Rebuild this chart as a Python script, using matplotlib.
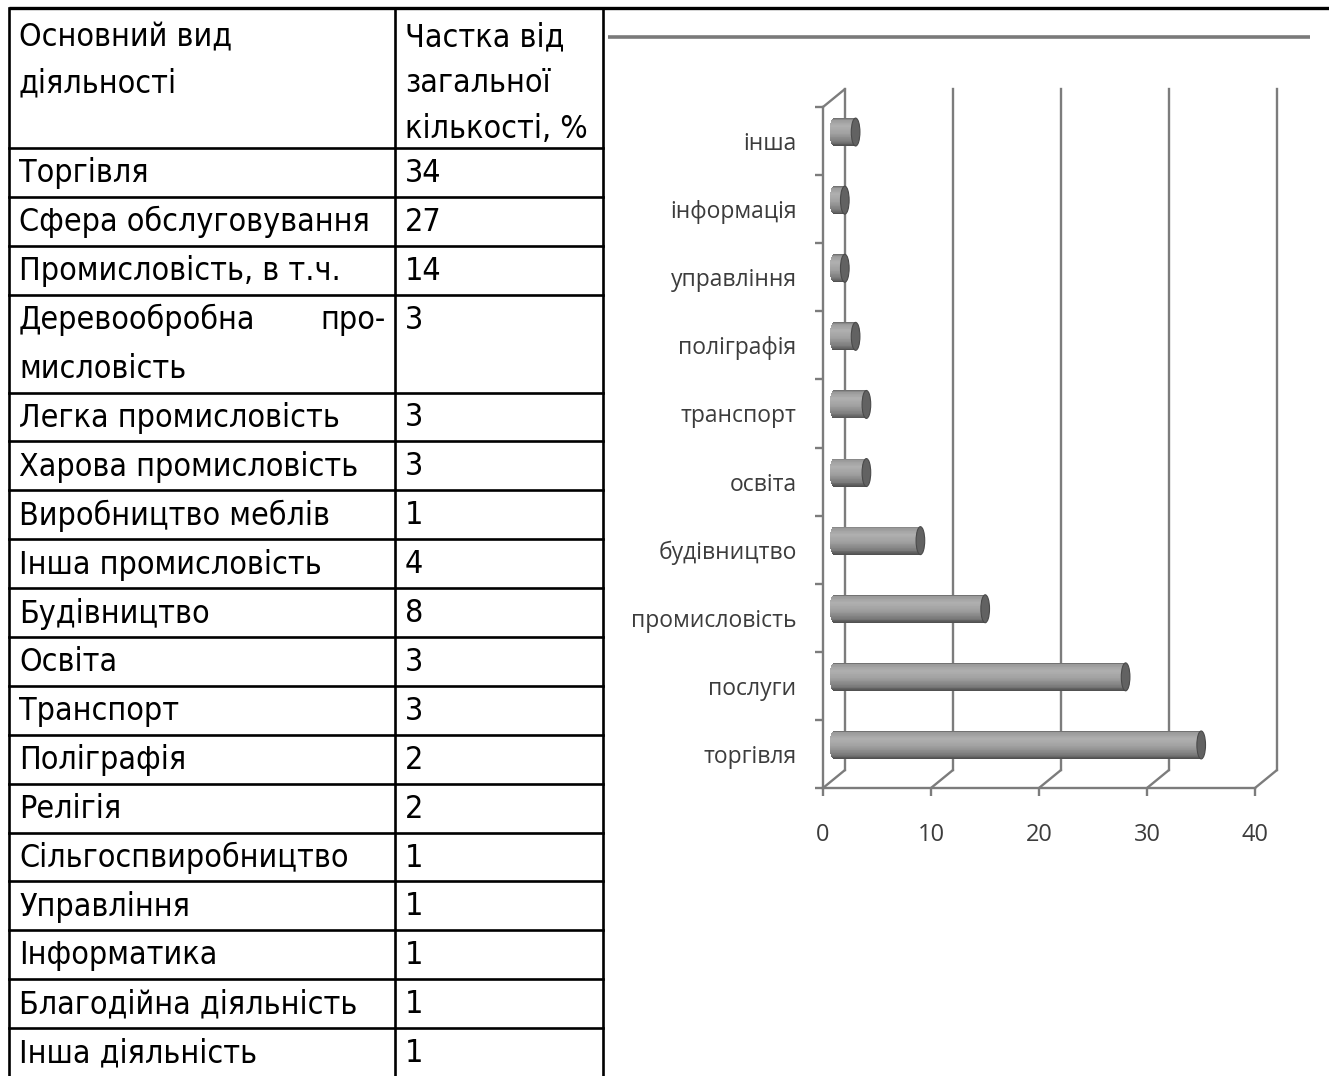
import numpy as np
import matplotlib
matplotlib.use("Agg")
import matplotlib.pyplot as plt
from matplotlib.patches import Ellipse, ConnectionPatch
from matplotlib.transforms import ScaledTranslation
from matplotlib import font_manager

# ---------------- data ----------------
header_activity = ["Основний вид", "діяльності"]
header_share = ["Частка від", "загальної", "кількості, %"]
table_activities = ["Торгівля", "Сфера обслуговування", "Промисловість, в т.ч.",
                    "Деревообробна про-\nмисловість", "Легка промисловість",
                    "Харова промисловість", "Виробництво меблів", "Інша промисловість",
                    "Будівництво", "Освіта", "Транспорт", "Поліграфія", "Релігія",
                    "Сільгоспвиробництво", "Управління", "Інформатика",
                    "Благодійна діяльність", "Інша діяльність"]
table_shares = [34, 27, 14, 3, 3, 3, 1, 4, 8, 3, 3, 2, 2, 1, 1, 1, 1, 1]

chart_categories = ["торгівля", "послуги", "промисловість", "будівництво", "освіта",
                    "транспорт", "поліграфія", "управління", "інформація", "інша"]
chart_values = [34, 27, 14, 8, 3, 3, 2, 1, 1, 2]
x_ticks = [0, 10, 20, 30, 40]

# ---------------- figure ----------------
W, H, DPI = 1329, 1076, 100
fig = plt.figure(figsize=(W / DPI, H / DPI), dpi=DPI)
fig.patch.set_facecolor("white")

# pick a condensed face for the table if one is installed
names = {f.name for f in font_manager.fontManager.ttflist}
cond = [f for f in font_manager.fontManager.ttflist
        if f.name == "DejaVu Sans" and f.stretch == "condensed" and f.weight in (400, "normal")]
if "Liberation Sans Narrow" in names:
    TFONT, TSTRETCH, TSIZE = ["Liberation Sans Narrow", "DejaVu Sans"], "normal", 25
elif cond:
    TFONT, TSTRETCH, TSIZE = ["DejaVu Sans"], "condensed", 23
else:
    TFONT, TSTRETCH, TSIZE = ["DejaVu Sans"], "normal", 21
CFONT = ["Open Sans", "DejaVu Sans"]

# ---------- table (pixel coordinate axes) ----------
at = fig.add_axes([0, 0, 1, 1])
at.set_xlim(0, W)
at.set_ylim(H, 0)
at.axis("off")

x_left, x_mid, x_right = 9, 395, 603
y_top = 8
header_bottom = 148
line_h = 48.9
lw_tab = 1.9

bounds = [header_bottom]
for name in table_activities:
    nlines = name.count("\n") + 1
    bounds.append(bounds[-1] + line_h * nlines)

at.plot([x_left, W], [y_top, y_top], color="black", lw=2.4, solid_capstyle="butt")
for yb in bounds:
    at.plot([x_left, x_right], [yb, yb], color="black", lw=lw_tab)
for xv in (x_left, x_mid, x_right):
    at.plot([xv, xv], [y_top, H + 5], color="black", lw=lw_tab)

tkw = dict(va="center", fontsize=TSIZE, family=TFONT, fontstretch=TSTRETCH)
hdr_y = [38, 84, 130]
for yy, s in zip(hdr_y, header_activity):
    at.text(19, yy, s, ha="left", **tkw)
for yy, s in zip(hdr_y, header_share):
    at.text(405, yy, s, ha="left", **tkw)

for i, (name, val) in enumerate(zip(table_activities, table_shares)):
    y0 = bounds[i]
    lines = name.split("\n")
    for j, ln in enumerate(lines):
        yy = y0 + line_h * (j + 0.5) + 1
        if ln.endswith("-") and " " in ln:
            first, last = ln.rsplit(" ", 1)
            at.text(19, yy, first, ha="left", **tkw)
            at.text(386, yy, last, ha="right", **tkw)
        else:
            at.text(19, yy, ln, ha="left", **tkw)
    at.text(405, y0 + line_h * 0.5 + 1, str(val), ha="left", **tkw)

# chart title placeholder line
at.plot([608, 1310], [37, 37], color="#7a7a7a", lw=2.6, solid_capstyle="butt")

# ---------- 3D-look bar chart ----------
gcol = "#7c7c7c"
ax = fig.add_axes([823 / W, 1 - 788 / H, 432 / W, 681 / H])
ax.set_facecolor("none")
back = ax.transData + ScaledTranslation(22 / DPI, 18 / DPI, fig.dpi_scale_trans)
mid = ax.transData + ScaledTranslation(11 / DPI, 9 / DPI, fig.dpi_scale_trans)

n_cat = len(chart_categories)
ylo, yhi = -0.5, n_cat - 0.5

for xt in x_ticks:
    ax.plot([xt, xt], [ylo, yhi], transform=back, color=gcol, lw=1.7, clip_on=False,
            zorder=1)
    cp = ConnectionPatch(xyA=(xt, ylo), coordsA=ax.transData, xyB=(xt, ylo),
                         coordsB=back, color=gcol, lw=1.7, zorder=1)
    ax.add_artist(cp)
cp = ConnectionPatch(xyA=(0, yhi), coordsA=ax.transData, xyB=(0, yhi),
                     coordsB=back, color=gcol, lw=1.7, zorder=1)
ax.add_artist(cp)

# cylinders
bh = 0.41
ns = 36
cap = 0.40
stops_t = [0.0, 0.06, 0.28, 0.55, 0.85, 1.0]
stops_g = [0.40, 0.60, 0.69, 0.63, 0.48, 0.30]
for i, v in enumerate(chart_values):
    for k in range(ns):
        t = (k + 0.5) / ns
        yk = i + bh / 2 - (k + 0.5) * bh / ns
        r = np.sqrt(max(0.0, 1 - (2 * t - 1) ** 2))
        left = -cap * r
        g = np.interp(t, stops_t, stops_g)
        ax.barh(yk, v - left, left=left, height=bh / ns * 1.15,
                color=(g, g, g), linewidth=0, transform=mid, zorder=3)
    e = Ellipse((v, i), width=2 * cap, height=bh, transform=mid,
                facecolor="#626262", edgecolor="#4a4a4a", lw=0.8, zorder=4)
    ax.add_patch(e)

ax.set_xlim(0, 40)
ax.set_ylim(ylo, yhi)
for s in ("top", "right"):
    ax.spines[s].set_visible(False)
for s in ("left", "bottom"):
    ax.spines[s].set_color(gcol)
    ax.spines[s].set_linewidth(1.7)
    ax.spines[s].set_zorder(2)

ax.set_xticks(x_ticks)
ax.set_xticklabels([str(t) for t in x_ticks], fontsize=17, color="#3c3c3c",
                   family=CFONT)
ax.tick_params(axis="x", direction="out", length=6, width=1.7, color=gcol, pad=19)

ax.set_yticks(np.arange(n_cat))
ax.set_yticklabels(chart_categories, fontsize=16.5, color="#3c3c3c", family=CFONT)
ax.tick_params(axis="y", which="major", length=0, pad=19)
ax.set_yticks(np.arange(ylo, yhi + 0.01, 1.0), minor=True)
ax.tick_params(axis="y", which="minor", direction="out", length=6, width=1.7,
               color=gcol)

fig.savefig("out.png", dpi=DPI, facecolor="white")
